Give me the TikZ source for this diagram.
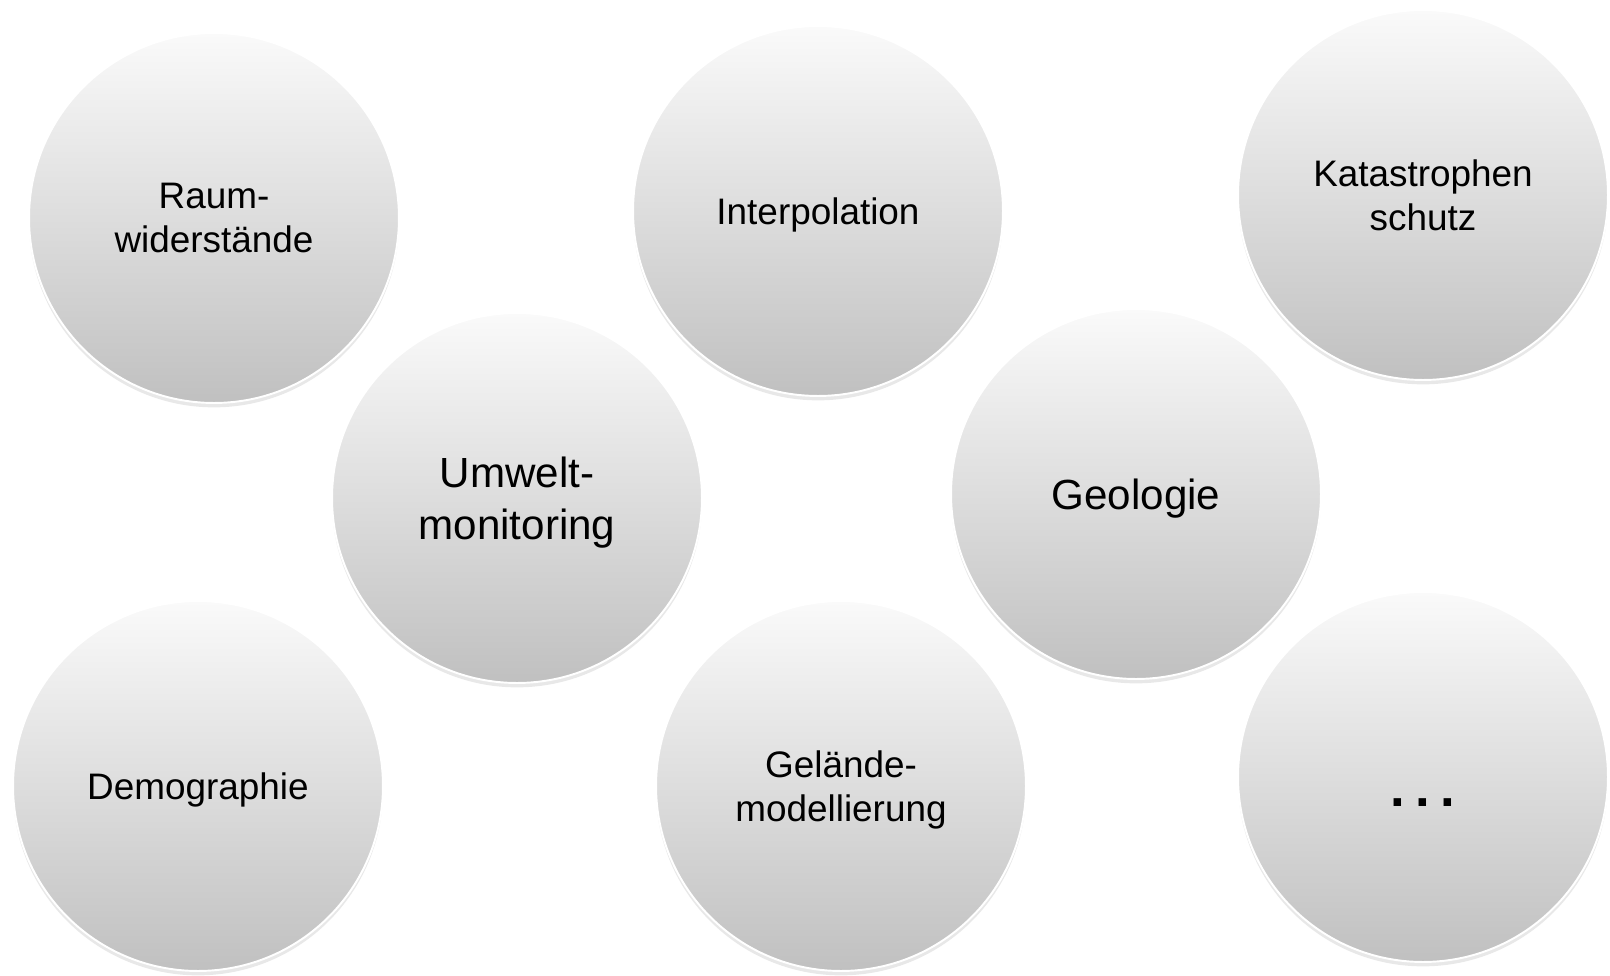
\documentclass[tikz,border=0pt]{standalone}
\usepackage{fontspec}
\setmainfont{Liberation Sans}
\usetikzlibrary{shadows}
\definecolor{bubbletop}{RGB}{250,250,250}
\definecolor{bubblebottom}{RGB}{192,192,192}

\tikzset{
  bubble/.style={circle, minimum size=7.4cm, inner sep=0pt, align=center, text depth=0pt,
    top color=bubbletop, bottom color=bubblebottom, draw=white, line width=1.1pt,
    drop shadow={shadow xshift=0pt, shadow yshift=-2.5pt, opacity=0.18},
    font=\fontsize{21}{25}\selectfont},
  bigbubble/.style={bubble, font=\fontsize{24}{29.5}\selectfont}
}

\begin{document}
\begin{tikzpicture}[x=0.02cm, y=-0.02cm]
    \useasboundingbox (0,0) rectangle (1610,975);

    % Top row
    \node[bubble] (raum) at (214,218) {Raum-\\widerstände};
    \node[bubble] (interp) at (818,211) {Interpolation};
    \node[bubble] (kat) at (1423,195) {Katastrophen\\schutz};

    % Middle row
    \node[bigbubble] (umwelt) at (517,498) {Umwelt-\\monitoring};
    \node[bigbubble] (geo) at (1136,494) {Geologie};

    % Bottom row
    \node[bubble] (demo) at (198,786) {Demographie};
    \node[bubble] (gelaende) at (841,786) {Gelände-\\modellierung};
    \node[bubble] (more) at (1423,777) {};
    \node[anchor=base, font=\fontsize{30}{36}\selectfont\bfseries] (more-dots) at (1423,806) {.\hspace{0.2em}.\hspace{0.2em}.};
\end{tikzpicture}
\end{document}
